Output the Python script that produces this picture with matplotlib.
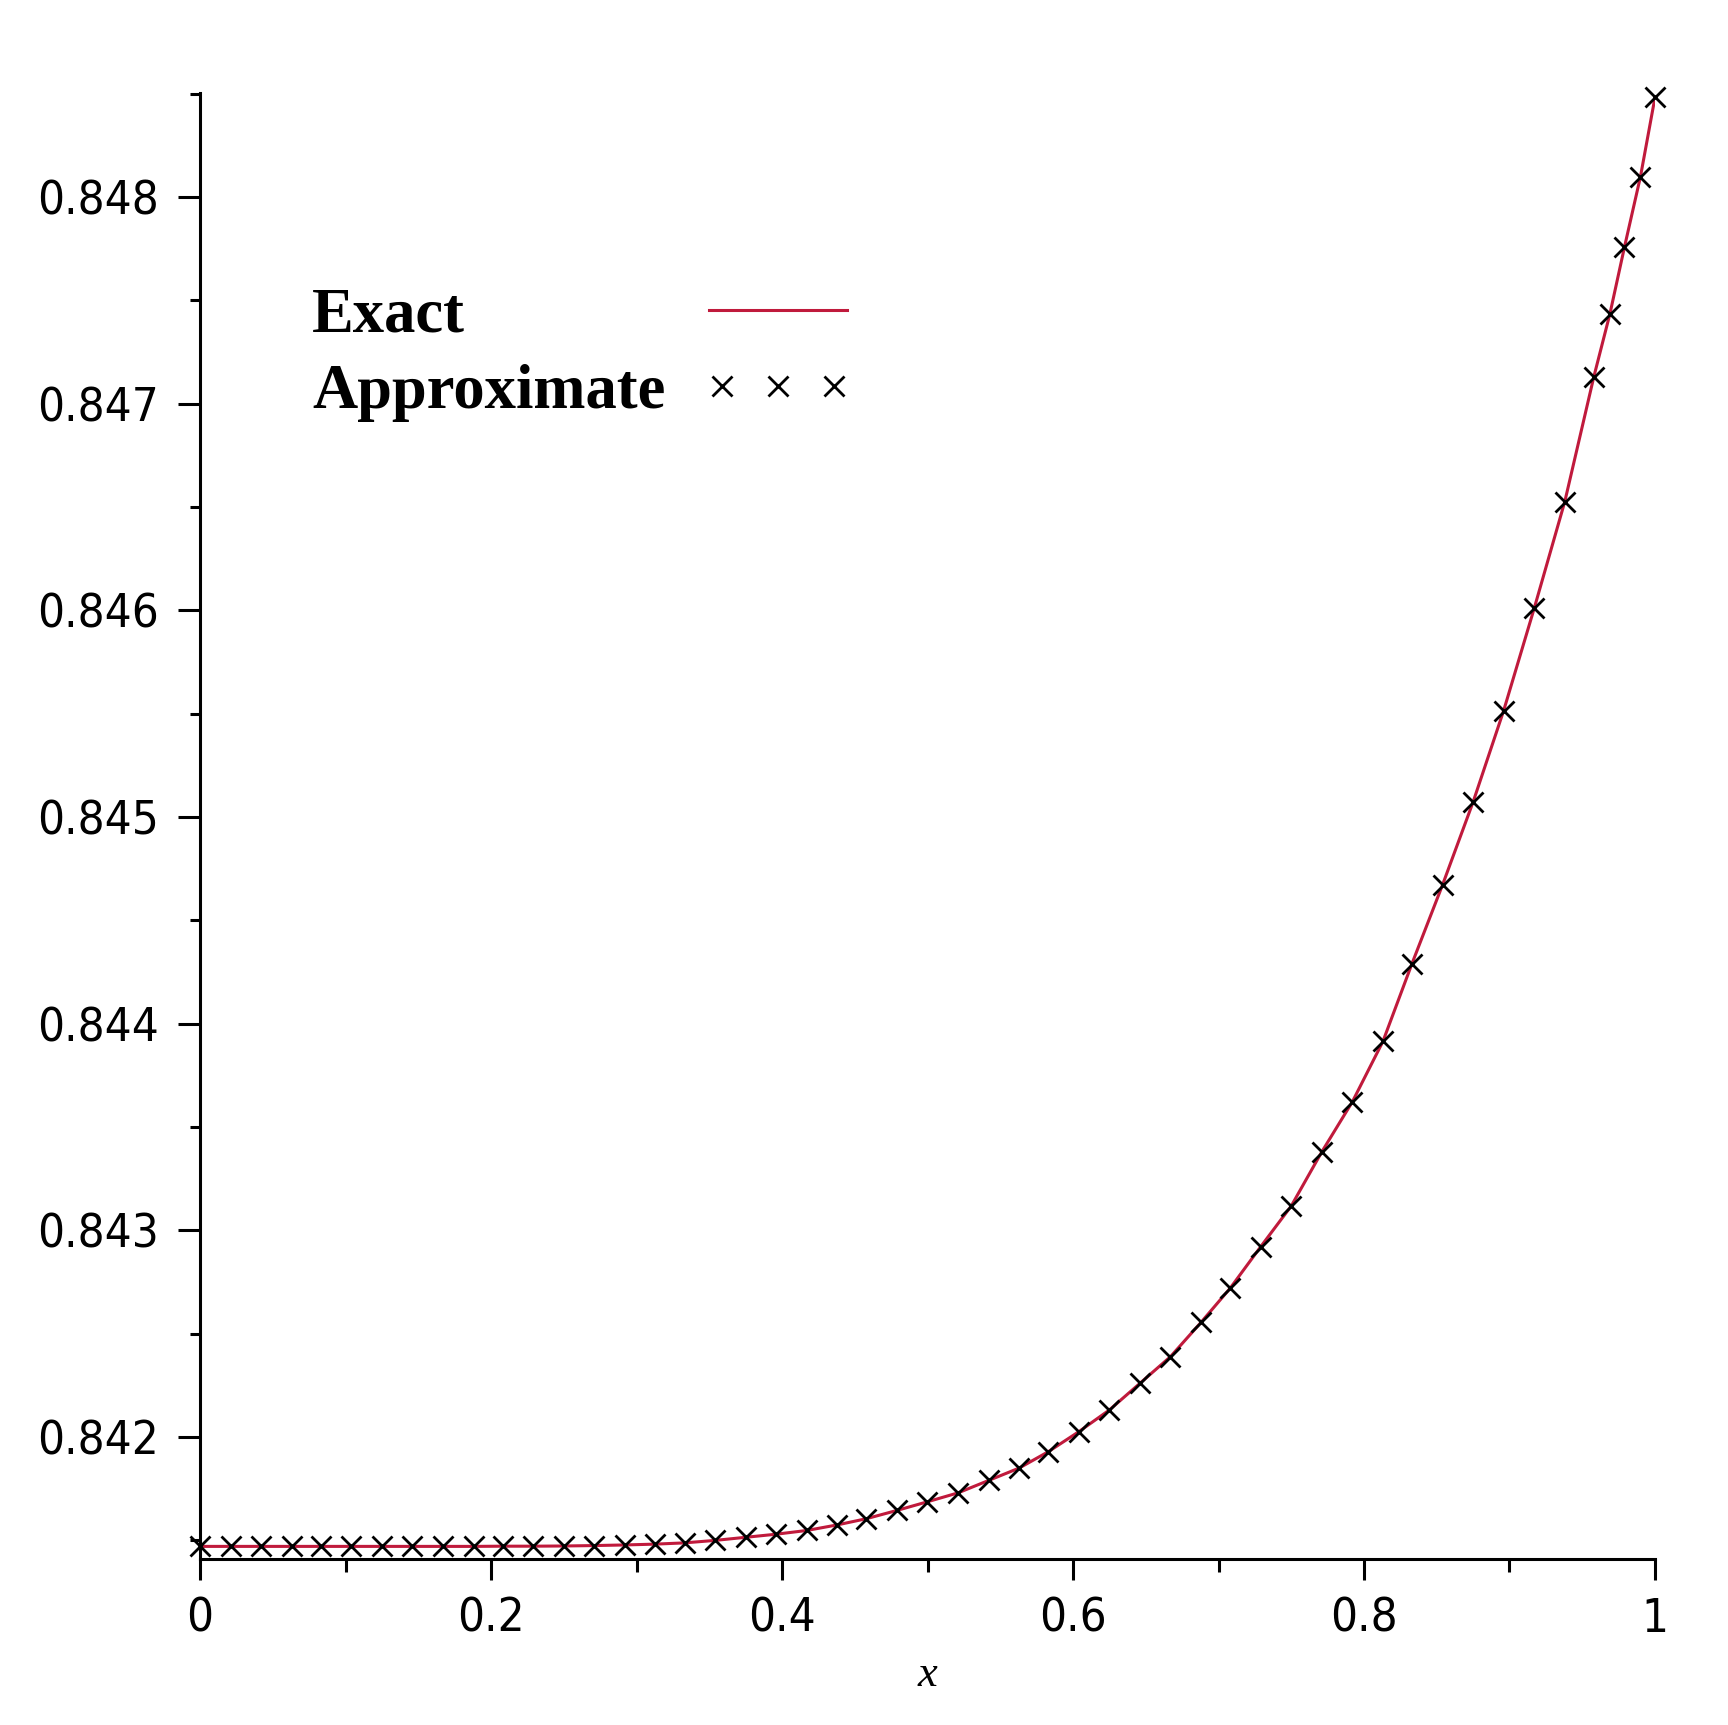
import matplotlib
matplotlib.use("Agg")
import matplotlib.pyplot as plt
from matplotlib.ticker import MultipleLocator
from matplotlib.legend_handler import HandlerLine2D
from matplotlib.offsetbox import DrawingArea

# ------------------------------------------------------------
# data
# ------------------------------------------------------------
x_pts = [
    0.000, 0.021, 0.042, 0.063, 0.083, 0.104, 0.125, 0.146, 0.167, 0.188,
    0.208, 0.229, 0.250, 0.271, 0.292, 0.313, 0.333, 0.354, 0.375, 0.396,
    0.417, 0.438, 0.458, 0.479, 0.500, 0.521, 0.542, 0.563, 0.583, 0.604,
    0.625, 0.646, 0.667, 0.688, 0.708, 0.729, 0.750, 0.771, 0.792, 0.813,
    0.833, 0.854, 0.875, 0.896, 0.917, 0.938, 0.958, 0.969, 0.979, 0.990,
    1.000,
]
y_approx = [
    0.841471, 0.841471, 0.841471, 0.841471, 0.841471, 0.841471, 0.841471,
    0.841471, 0.841471, 0.841471, 0.841472, 0.841472, 0.841473, 0.841475,
    0.841478, 0.841482, 0.841488, 0.841500, 0.841515, 0.841530, 0.841548,
    0.841575, 0.841605, 0.841645, 0.841687, 0.841730, 0.841790, 0.841850,
    0.841929, 0.842026, 0.842131, 0.842260, 0.842389, 0.842555, 0.842720,
    0.842921, 0.843118, 0.843380, 0.843622, 0.843914, 0.844291, 0.844672,
    0.845073, 0.845515, 0.846010, 0.846526, 0.847131, 0.847434, 0.847757,
    0.848098, 0.848482,
]
y_exact = list(y_approx)

x_ticks = [0, 0.2, 0.4, 0.6, 0.8, 1]
x_tick_labels = ["0", "0.2", "0.4", "0.6", "0.8", "1"]
y_ticks = [0.842, 0.843, 0.844, 0.845, 0.846, 0.847, 0.848]
y_tick_labels = ["0.842", "0.843", "0.844", "0.845", "0.846", "0.847", "0.848"]

# ------------------------------------------------------------
# figure
# ------------------------------------------------------------
serif_font = ["Liberation Serif", "DejaVu Serif"]

fig = plt.figure(figsize=(17.28, 17.25), dpi=100)
ax = fig.add_axes([200 / 1728, 1 - 1559 / 1725,
                   1455 / 1728, (1559 - 93) / 1725])

exact_line, = ax.plot(x_pts, y_exact, color="#c01a3c", lw=2.2,
                      label="Exact", zorder=2)
approx_line, = ax.plot(x_pts, y_approx, ls="none", marker="x", ms=15,
                       mew=2.0, color="black", label="Approximate",
                       zorder=3, clip_on=False)

ax.set_xlim(0, 1)
ax.set_ylim(0.84141, 0.848503)

for s in ("top", "right"):
    ax.spines[s].set_visible(False)
for s in ("left", "bottom"):
    ax.spines[s].set_linewidth(2.2)

ax.set_xticks(x_ticks)
ax.set_xticklabels(x_tick_labels)
ax.set_yticks(y_ticks)
ax.set_yticklabels(y_tick_labels)
ax.xaxis.set_minor_locator(MultipleLocator(0.1))
ax.yaxis.set_minor_locator(MultipleLocator(0.0005))

ax.tick_params(axis="x", which="major", length=15, width=2.2, pad=12)
ax.tick_params(axis="x", which="minor", length=9.5, width=2.2)
ax.tick_params(axis="y", which="major", length=15.5, width=2.2, pad=14)
ax.tick_params(axis="y", which="minor", length=7.5, width=2.2)

# narrow sans for the tick numbers
for lab in ax.get_xticklabels() + ax.get_yticklabels():
    lab.set_family(["DejaVu Sans"])
    lab.set_stretch("condensed")
    lab.set_fontsize(34)

ax.set_xlabel("x", family=serif_font, style="italic", fontsize=32,
              labelpad=10)

leg = ax.legend(loc="upper left",
                bbox_to_anchor=(312 / 1728, 1 - 288 / 1725),
                bbox_transform=fig.transFigure,
                frameon=False, markerfirst=False, numpoints=3,
                handlelength=2.2, handletextpad=0.7, labelspacing=0.28,
                borderpad=0, borderaxespad=0,
                handler_map={exact_line: HandlerLine2D(marker_pad=0),
                             approx_line: HandlerLine2D(marker_pad=0.2)},
                prop={"family": serif_font, "weight": "bold", "size": 45})

# Maple style legend: labels left aligned, symbols in one column on the right
fig.canvas.draw()
renderer = fig.canvas.get_renderer()
col = leg._legend_handle_box.get_children()[0]
col.align = "left"
rows = col.get_children()
text_w = [t.get_window_extent(renderer).width * 72 / fig.dpi
          for t in leg.get_texts()]
sep = leg.handletextpad * leg._fontsize
for row, w in zip(rows, text_w):
    gap = max(text_w) - w - sep
    if gap > 0:
        row.get_children().insert(1, DrawingArea(gap, 1))

fig.savefig("out.png", dpi=100)
